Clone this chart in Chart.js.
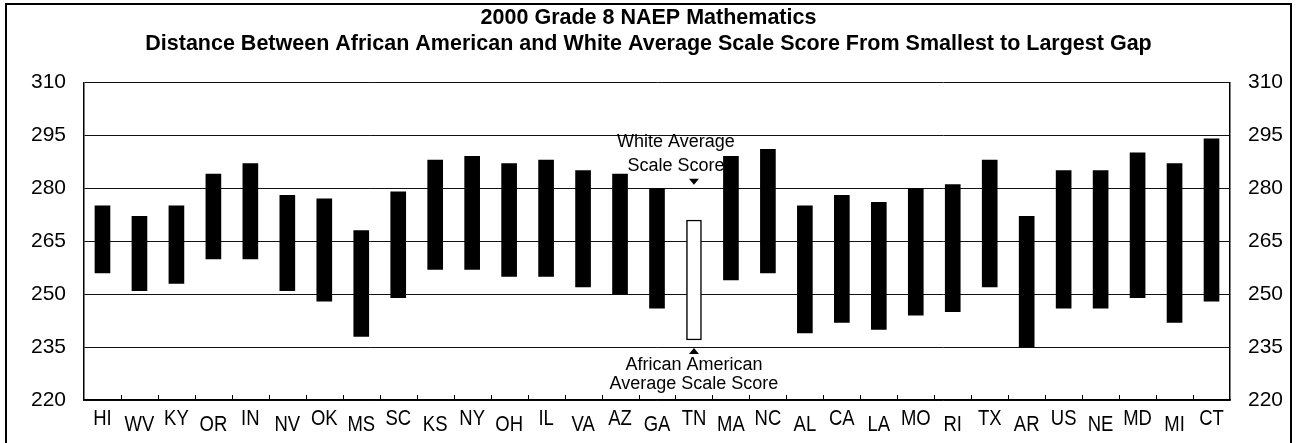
<!DOCTYPE html>
<html>
<head>
<meta charset="utf-8">
<script src="https://cdn.jsdelivr.net/npm/chart.js@4/dist/chart.umd.min.js"></script>
<style>
  html, body { margin: 0; padding: 0; background: #fff; }
</style>
</head>
<body>
<canvas id="gapChart" width="1297" height="443"></canvas>
<script>
// states ordered from smallest to largest gap
const states = ['HI', 'WV', 'KY', 'OR', 'IN', 'NV', 'OK', 'MS', 'SC', 'KS', 'NY', 'OH', 'IL', 'VA', 'AZ', 'GA',
  'TN', 'MA', 'NC', 'AL', 'CA', 'LA', 'MO', 'RI', 'TX', 'AR', 'US', 'NE', 'MD', 'MI', 'CT'];
const whiteAvg = [275, 272, 275, 284, 287, 278, 277, 268, 279, 288, 289, 287, 288, 285, 284, 280,
  271, 289, 291, 275, 278, 276, 280, 281, 288, 272, 285, 285, 290, 287, 294];
const blackAvg = [256, 251, 253, 260, 260, 251, 248, 238, 249, 257, 257, 255, 255, 252, 250, 246,
  237, 254, 256, 239, 242, 240, 244, 245, 252, 235, 246, 246, 249, 242, 248];
const yTickValues = [220, 235, 250, 265, 280, 295, 310];
const highlightState = 'TN';
const whiteNote = ['White Average', 'Scale Score'];
const blackNote = ['African American', 'Average Scale Score'];

const BASE_FONT = '"Liberation Sans", Arial, sans-serif';

const hiIdx = states.indexOf(highlightState);

// tick marks, staggered state labels, callouts and outer frame
const decorations = {
  id: 'decorations',
  afterDraw(chart) {
    const { ctx, chartArea: a, scales: { x, y } } = chart;
    ctx.save();
    ctx.strokeStyle = '#000';
    ctx.fillStyle = '#000';

    const step = x.getPixelForValue(1) - x.getPixelForValue(0);
    ctx.lineWidth = 1;
    for (let i = 1; i < states.length; i++) {
      const px = Math.round(x.getPixelForValue(i) - step / 2) + 0.5;
      ctx.beginPath();
      ctx.moveTo(px, a.bottom);
      ctx.lineTo(px, a.bottom - 5);
      ctx.stroke();
    }

    // state labels: slightly condensed, alternating up/down
    ctx.font = '22px ' + BASE_FONT;
    ctx.textAlign = 'center';
    ctx.textBaseline = 'middle';
    states.forEach((s, i) => {
      ctx.save();
      ctx.translate(x.getPixelForValue(i), a.bottom + (i % 2 ? 25 : 19));
      ctx.scale(0.84, 1);
      ctx.fillText(s, 0, 0);
      ctx.restore();
    });

    // callouts next to the highlighted bar
    const cx = x.getPixelForValue(hiIdx);
    ctx.font = '18px ' + BASE_FONT;
    ctx.fillText(whiteNote[0], cx - 18, y.getPixelForValue(293.2));
    ctx.fillText(whiteNote[1], cx - 18, y.getPixelForValue(286.3));
    ctx.fillText(blackNote[0], cx, y.getPixelForValue(230));
    ctx.fillText(blackNote[1], cx, y.getPixelForValue(224.4));

    const tipTop = y.getPixelForValue(281);
    ctx.beginPath();
    ctx.moveTo(cx - 5, tipTop - 6);
    ctx.lineTo(cx + 5, tipTop - 6);
    ctx.lineTo(cx, tipTop);
    ctx.closePath();
    ctx.fill();

    const tipBot = y.getPixelForValue(235) + 1;
    ctx.beginPath();
    ctx.moveTo(cx - 5, tipBot + 6);
    ctx.lineTo(cx + 5, tipBot + 6);
    ctx.lineTo(cx, tipBot);
    ctx.closePath();
    ctx.fill();

    ctx.lineWidth = 2;
    ctx.strokeRect(6, 4, chart.width - 12, chart.height + 4);
    ctx.restore();
  }
};

const yAxis = (side) => ({
  position: side,
  min: 220,
  max: 310,
  afterBuildTicks: (s) => { s.ticks = yTickValues.map(v => ({ value: v })); },
  afterFit: (s) => { s.width = side === 'left' ? 84 : 67; },
  grid: {
    drawOnChartArea: side === 'left',
    drawTicks: false,
    color: '#111',
    lineWidth: 1
  },
  border: { display: true, color: '#000', width: 1.5 },
  ticks: {
    padding: side === 'left' ? 18 : 18,
    color: '#000',
    font: { size: 21, family: BASE_FONT }
  }
});

new Chart(document.getElementById('gapChart').getContext('2d'), {
  type: 'bar',
  data: {
    labels: states,
    datasets: [{
      data: states.map((s, i) => [blackAvg[i], whiteAvg[i]]),
      backgroundColor: states.map(s => s === highlightState ? '#fff' : '#000'),
      borderColor: '#000',
      borderWidth: states.map(s => s === highlightState ? 1.5 : 0),
      borderSkipped: false,
      barThickness: 15
    }]
  },
  options: {
    responsive: false,
    animation: false,
    devicePixelRatio: 1,
    layout: { padding: { left: 0, right: 0, top: 0, bottom: 0 } },
    scales: {
      x: {
        offset: true,
        afterFit: (s) => { s.height = 43; },
        grid: { display: false },
        border: { display: true, color: '#000', width: 1.5 },
        ticks: { display: false }
      },
      y: yAxis('left'),
      y2: yAxis('right')
    },
    plugins: {
      legend: { display: false },
      tooltip: { enabled: false },
      title: {
        display: true,
        text: ['2000 Grade 8 NAEP Mathematics',
          'Distance Between African American and White Average Scale Score From Smallest to Largest Gap'],
        color: '#000',
        font: { size: 21.5, weight: 'bold', family: BASE_FONT, lineHeight: 1.17 },
        padding: { top: 6, bottom: 26 }
      }
    }
  },
  plugins: [decorations]
});
</script>
</body>
</html>
